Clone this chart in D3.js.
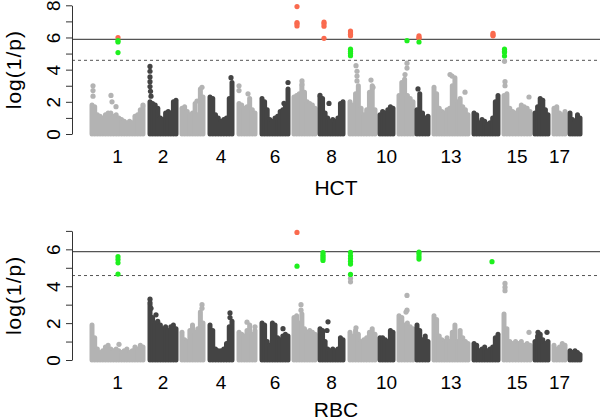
<!DOCTYPE html>
<meta charset="utf-8">
<style>

body {
  margin: 0;
  background: #fff;
}

text {
  font-family: Arial, "Liberation Sans", sans-serif;
  fill: #000;
}

.axis path,
.axis line {
  stroke: #333;
}

.axis text {
  font-size: 19px;
}

.chr-label {
  font-size: 19px;
}

.title {
  font-size: 21px;
}

.ylab {
  font-size: 21px;
  letter-spacing: 1px;
}

.thresh {
  stroke: #555;
  stroke-width: 1.2;
}

.thresh.suggestive {
  stroke-width: 1;
  stroke-dasharray: 3,3;
}

</style>
<svg width="600" height="420"></svg>
<script src="https://d3js.org/d3.v7.min.js"></script>
<script>

// chromosome layout along the genome axis (start, length)
var chrStart = [0, 58, 90, 118, 147, 170, 202, 228, 258, 288, 307, 325, 342, 382, 412, 443, 462, 478],
    chrLen   = [51, 26, 21, 22, 16, 26, 21, 23, 25, 13, 14, 11, 34, 24, 26, 13, 11, 10],
    chrTickLabels = [1, 2, 4, 6, 8, 10, 13, 15, 17];

// significance thresholds, log(1/p)
var genomeWide = 5.88,
    suggestive = 4.58;

// HCT: upper edge of the dense point cloud, per chromosome
var hctEnvelope = [
  [1.8, 1.7, 1.2, 1.1, 1.0, 1.2, 1.3, 1.3, 1.1, 1.2, 1.0, 0.9, 0.8, 0.7, 0.8, 0.7, 1.1, 1.2, 1.5, 1.7],
  [2.0, 1.9, 1.8, 1.6, 1.0, 0.9, 1.3, 1.4, 1.3, 2.0, 2.1],
  [1.6, 1.7, 1.4, 1.2, 1.3, 1.9, 1.2, 2.8, 2.3],
  [2.3, 2.2, 1.2, 1.0, 0.8, 0.9, 1.0, 2.2, 3.2],
  [1.9, 1.8, 1.6, 1.7, 2.2, 1.5, 1.3],
  [2.2, 2.0, 1.5, 0.9, 0.8, 1.0, 1.1, 1.4, 1.5, 1.8, 2.8],
  [2.3, 2.4, 2.5, 3.0, 2.6, 2.0, 1.9, 1.8, 1.6],
  [2.3, 2.2, 1.3, 1.0, 0.8, 0.9, 0.8, 1.0, 1.9, 2.0],
  [2.0, 1.8, 2.5, 3.0, 1.6, 1.2, 1.5, 2.6, 3.0, 1.5],
  [1.2, 1.4, 1.3, 1.5, 1.7, 1.6],
  [2.4, 3.2, 3.4, 2.4, 2.2, 2.0],
  [1.5, 2.5, 1.3, 1.0, 1.1],
  [2.9, 2.5, 1.6, 1.4, 1.3, 1.5, 1.6, 3.0, 3.5, 2.0, 2.2, 1.7, 1.5, 1.2],
  [1.3, 1.2, 0.7, 0.9, 0.8, 0.6, 0.7, 1.0, 2.0, 2.4],
  [2.4, 2.5, 1.6, 1.4, 1.3, 1.5, 1.8, 1.7, 1.6, 1.4],
  [1.3, 1.7, 2.2, 2.1, 1.5, 1.2],
  [1.6, 1.7, 1.3, 1.2, 1.4],
  [1.3, 0.9, 0.8, 1.2, 1.0]
];

// HCT: single SNPs standing out of the cloud [chr, offset, log(1/p)]
var hctPoints = [
  [1, 1, 3.0], [1, 1, 2.7], [1, 1, 2.35], [1, 19, 2.4], [1, 20, 2.0], [1, 24, 1.7], [1, 51, 1.8],
  [1, 26, 5.99], [1, 26, 5.8], [1, 26, 5.72], [1, 26, 5.06],
  [2, 0, 4.2], [2, 0, 3.9], [2, 0, 3.55], [2, 0, 3.25], [2, 0, 2.95], [2, 0.5, 2.65], [2, 1, 2.35],
  [3, 15, 2.05], [3, 20, 2.9],
  [4, 21, 3.5],
  [5, 0, 3.0], [5, 0, 2.7], [5, 9, 2.5],
  [6, 26, 3.2], [6, 22, 1.9],
  [7, 8, 3.3], [7, 8, 3.1],
  [7, 3, 7.92], [7, 3, 6.92], [7, 3, 6.85], [7, 3, 6.72],
  [8, 9, 1.9], [8, 0, 2.4],
  [8, 4, 6.95], [8, 4, 6.85], [8, 4, 6.7], [8, 4, 5.95],
  [9, 6, 4.25], [9, 7, 3.9], [9, 7, 3.6], [9, 7, 3.3], [9, 21, 3.35], [9, 23, 2.9],
  [9, 0.5, 6.4], [9, 0.5, 6.3], [9, 0.5, 6.2], [9, 0.5, 6.1],
  [9, 0.5, 5.27], [9, 0.5, 5.15], [9, 0.5, 5.02], [9, 0.5, 4.87],
  [11, 8, 4.4], [11, 8, 4.1], [11, 6, 3.7], [11, 8, 5.8],
  [12, 1, 2.8], [12, 2, 6.1], [12, 2, 6.0], [12, 2, 5.95], [12, 2, 5.72],
  [13, 16, 3.7], [13, 18, 3.6], [13, 31, 2.6],
  [14, 19, 6.26], [14, 19, 6.15], [14, 19, 6.1],
  [15, 0.5, 4.52], [15, 1, 3.25], [15, 1, 3.0], [15, 25, 2.3],
  [15, 0.5, 5.27], [15, 0.5, 5.15], [15, 0.5, 5.06], [15, 0.5, 4.85]
];

// RBC
var rbcEnvelope = [
  [1.9, 1.2, 0.6, 0.4, 0.5, 0.7, 0.8, 0.6, 0.5, 0.6, 0.5, 0.4, 0.5, 0.6, 0.4, 0.5, 0.7, 0.6, 0.8, 0.7],
  [3.0, 2.3, 2.0, 2.1, 1.9, 1.7, 1.8, 1.6, 1.8, 1.9, 1.7],
  [1.5, 1.1, 1.0, 1.6, 1.9, 1.5, 1.7, 2.6, 2.0],
  [1.9, 1.6, 0.6, 0.5, 0.5, 0.6, 0.9, 1.8, 2.1],
  [1.5, 1.4, 1.3, 1.6, 1.9, 1.4, 1.6],
  [2.0, 1.9, 1.0, 0.8, 2.0, 1.9, 1.2, 1.1, 1.3, 1.4, 1.3],
  [2.3, 2.4, 2.0, 2.5, 1.7, 1.5, 1.6, 1.5, 1.4],
  [1.7, 1.6, 1.0, 0.6, 0.5, 0.6, 0.5, 0.6, 1.2, 1.1],
  [1.5, 1.3, 1.6, 1.4, 1.0, 1.1, 1.2, 1.5, 1.7, 1.4],
  [1.2, 1.2, 1.1, 1.0, 1.6, 1.5],
  [2.4, 2.3, 1.9, 2.0, 1.8, 1.7],
  [1.9, 1.6, 1.1, 1.3, 1.0],
  [2.4, 2.2, 1.3, 1.1, 1.0, 1.2, 1.0, 1.5, 1.9, 1.0, 1.6, 1.2, 1.0, 0.9],
  [0.9, 0.8, 0.5, 0.6, 0.7, 0.5, 0.6, 0.7, 1.2, 1.4],
  [2.5, 1.7, 1.0, 0.9, 1.0, 0.9, 1.0, 0.8, 0.9, 0.8],
  [1.0, 1.3, 1.4, 1.1, 0.9, 1.0],
  [0.8, 0.6, 0.7, 0.9, 0.8],
  [0.5, 0.4, 0.5, 0.4, 0.3]
];

var rbcPoints = [
  [1, 27, 0.85], [1, 26, 5.6], [1, 26, 5.45], [1, 26, 5.27], [1, 26, 4.66],
  [2, 0, 3.3], [2, 0, 3.1], [2, 1, 2.8], [2, 6, 2.45],
  [3, 20, 3.0], [3, 20, 2.8],
  [4, 20, 2.55], [4, 20, 2.3],
  [5, 8, 2.05], [5, 16, 1.8],
  [6, 21, 1.7],
  [7, 7, 3.0], [7, 7, 2.7], [7, 3, 6.92], [7, 3, 5.09],
  [8, 8, 2.07], [8, 7, 1.6],
  [8, 3, 5.82], [8, 3, 5.7], [8, 3, 5.6], [8, 3, 5.5], [8, 3, 5.4],
  [9, 0.5, 4.43], [9, 0.5, 4.24], [9, 6, 1.75],
  [9, 0.5, 5.84], [9, 0.5, 5.65], [9, 0.5, 5.5], [9, 0.5, 5.35], [9, 0.5, 5.2], [9, 0.5, 4.64],
  [11, 8, 3.5], [11, 8, 2.7], [11, 7, 2.6],
  [12, 2, 5.85], [12, 2, 5.75], [12, 2, 5.6], [12, 2, 5.47],
  [14, 18, 5.33],
  [15, 1, 4.15], [15, 1, 3.95], [15, 1, 3.76], [15, 25, 1.5],
  [16, 3, 1.5], [16, 12, 1.5]
];

var colLight = "#b3b3b3",
    colDark = "#444444",
    colRed = "#fa6a4e",
    colGreen = "#1ef01e";

var svg = d3.select("svg");

var x = d3.scaleLinear().domain([0, 488]).range([92, 580]);
var plotLeft = 72, plotRight = 600;

function chrColour(c) { return c % 2 ? colLight : colDark; }

function pointColour(p) {
  if (p[2] > genomeWide) return colRed;
  if (p[2] > suggestive) return colGreen;
  return chrColour(p[0]);
}

function panel(opts) {
  var y = d3.scaleLinear().domain([0, opts.yMax]).range(opts.yRange);
  var g = svg.append("g");

  // dense cloud: one column of points per sampled position
  opts.envelope.forEach(function(vals, i) {
    var n = vals.length;
    g.append("g").selectAll("line")
      .data(vals)
      .enter().append("line")
        .attr("x1", function(d, j) { return x(chrStart[i] + chrLen[i] * j / (n - 1)); })
        .attr("x2", function(d, j) { return x(chrStart[i] + chrLen[i] * j / (n - 1)); })
        .attr("y1", y(0))
        .attr("y2", function(d) { return y(d); })
        .attr("stroke", chrColour(i + 1))
        .attr("stroke-width", 5)
        .attr("stroke-linecap", "round");
  });

  g.append("line")
      .attr("class", "thresh")
      .attr("x1", plotLeft).attr("x2", plotRight)
      .attr("y1", y(genomeWide)).attr("y2", y(genomeWide));

  g.append("line")
      .attr("class", "thresh suggestive")
      .attr("x1", plotLeft).attr("x2", plotRight)
      .attr("y1", y(suggestive)).attr("y2", y(suggestive));

  g.append("g").selectAll("circle")
    .data(opts.points)
    .enter().append("circle")
      .attr("cx", function(d) { return x(chrStart[d[0] - 1] + d[1]); })
      .attr("cy", function(d) { return y(d[2]); })
      .attr("r", 2.6)
      .attr("fill", pointColour);

  // y axis, labels parallel to the axis as in R
  var ax = g.append("g")
      .attr("class", "axis")
      .attr("transform", "translate(" + plotLeft + ",0)")
      .call(d3.axisLeft(y).ticks(opts.yMax).tickSize(6).tickSizeOuter(0)
        .tickFormat(function(d) { return d % 2 ? "" : d; }));
  ax.select(".domain").attr("stroke-width", 1);
  ax.selectAll(".tick text")
      .attr("transform", "rotate(-90)")
      .attr("x", 0)
      .attr("y", -12)
      .attr("dy", 0)
      .attr("text-anchor", "middle");

  g.append("text")
      .attr("class", "ylab")
      .attr("transform", "translate(21," + (opts.yRange[0] + opts.yRange[1]) / 2 + ") rotate(-90)")
      .attr("text-anchor", "middle")
      .text("log(1/p)");

  g.append("g").selectAll("text")
    .data(chrTickLabels)
    .enter().append("text")
      .attr("class", "chr-label")
      .attr("x", function(c) { return x(chrStart[c - 1] + chrLen[c - 1] / 2); })
      .attr("y", y(0) + 29)
      .attr("text-anchor", "middle")
      .text(function(c) { return c; });

  g.append("text")
      .attr("class", "title")
      .attr("x", (plotLeft + plotRight) / 2)
      .attr("y", opts.titleY)
      .attr("text-anchor", "middle")
      .text(opts.title);
}

panel({ title: "HCT", yMax: 8, yRange: [134, 5.3], titleY: 195,
        envelope: hctEnvelope, points: hctPoints });

panel({ title: "RBC", yMax: 7, yRange: [360, 230.9], titleY: 417,
        envelope: rbcEnvelope, points: rbcPoints });

</script>
